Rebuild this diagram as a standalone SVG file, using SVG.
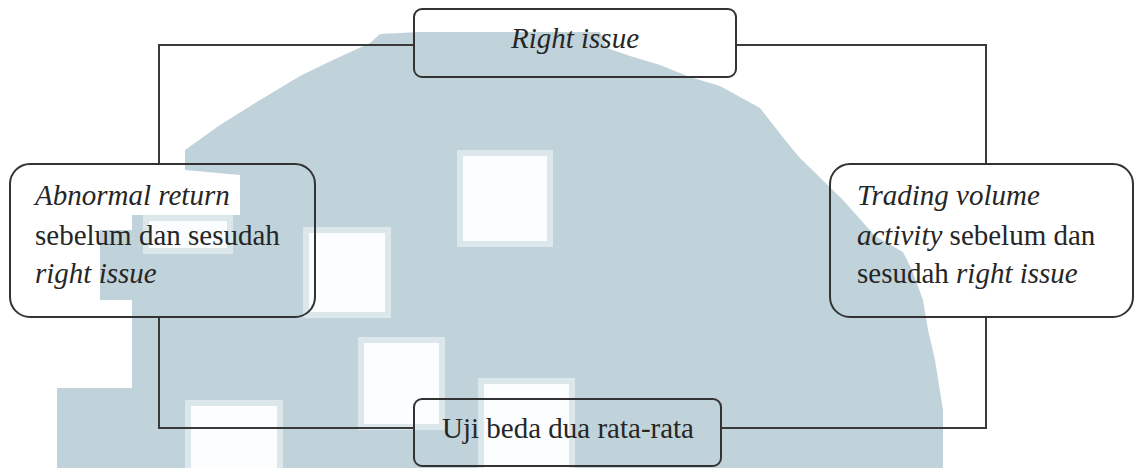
<svg xmlns="http://www.w3.org/2000/svg" width="1135" height="468" viewBox="0 0 1135 468">
  <style>
    .wm { fill: #c1d3da; }
    .hole { fill: #fbfdfe; stroke: #dce7eb; stroke-width: 6; }
    .box { fill: none; stroke: #333333; stroke-width: 2; }
    .wire { fill: none; stroke: #3a3a3a; stroke-width: 2; }
    .t { font-family: "Liberation Serif", "Times New Roman", serif; font-size: 29px; fill: #262626; }
    .i { font-style: italic; }
  </style>

  <rect width="1135" height="468" fill="#ffffff"/>

  <!-- background emblem -->
  <g id="emblem">
    <path class="wm" d="M370 43 L380 34 L420 32 L600 32 L607 48 L630 56 L660 65 L690 77 L720 86 L760 108 L785 140 L800 158 L843 200 L875 236 L903 252 L912 270 L923 300 L928 330 L935 360 L943 410 L943 468 L57 468 L57 388 L132 388 L132 300 L100 300 L100 230 L132 230 L132 215 L240 215 L240 175 L185 170 L185 150 L220 125 L260 100 L300 76 L333 60 Z"/>
    <rect class="hole" x="146" y="218" width="84" height="33"/>
    <rect class="hole" x="460" y="153" width="90" height="91"/>
    <rect class="hole" x="306" y="230" width="82" height="85"/>
    <rect class="hole" x="361" y="340" width="81" height="87"/>
    <rect class="hole" x="481" y="381" width="91" height="90"/>
    <rect class="hole" x="188" y="403" width="92" height="68"/>
  </g>

  <!-- connectors -->
  <g id="connectors">
    <polyline class="wire" points="159,164 159,45 414,45"/>
    <polyline class="wire" points="736,45 986,45 986,164"/>
    <polyline class="wire" points="159,317 159,428 414,428"/>
    <polyline class="wire" points="986,317 986,428 721,428"/>
  </g>

  <g id="node-right-issue">
    <rect class="box" x="414" y="9" width="322" height="68" rx="8"/>
    <text class="t i" x="575" y="48" text-anchor="middle">Right issue</text>
  </g>

  <g id="node-abnormal-return">
    <rect class="box" x="10" y="164" width="305" height="153" rx="20"/>
    <text class="t" x="35" y="205"><tspan class="i">Abnormal return</tspan></text>
    <text class="t" x="35" y="245">sebelum dan sesudah</text>
    <text class="t i" x="35" y="283">right issue</text>
  </g>

  <g id="node-trading-volume">
    <rect class="box" x="830" y="164" width="303" height="153" rx="20"/>
    <text class="t i" x="857" y="205">Trading volume</text>
    <text class="t" x="857" y="245"><tspan class="i">activity</tspan> sebelum dan</text>
    <text class="t" x="857" y="283">sesudah <tspan class="i">right issue</tspan></text>
  </g>

  <g id="node-uji-beda">
    <rect class="box" x="414" y="399" width="307" height="67" rx="8"/>
    <text class="t" x="568" y="438" text-anchor="middle">Uji beda dua rata-rata</text>
  </g>
</svg>
